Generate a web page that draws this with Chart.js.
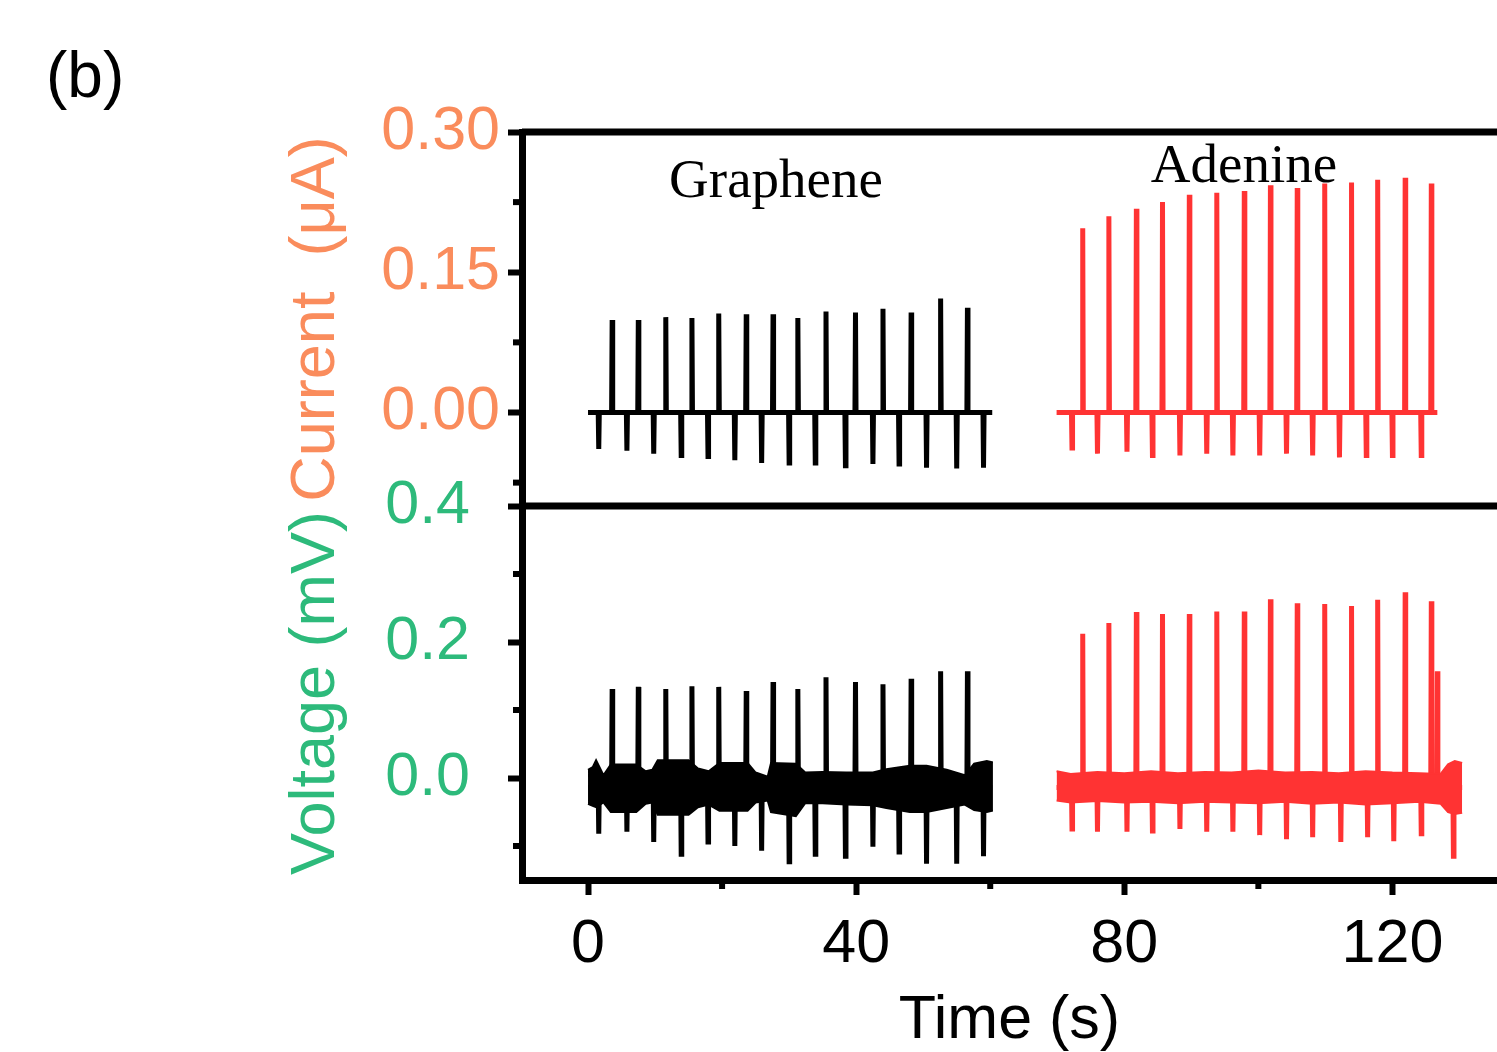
<!DOCTYPE html>
<html>
<head>
  <title>Graphene / Adenine spike trains</title>
  <script src="https://cdn.jsdelivr.net/npm/chart.js"></script>
  <style>
    body { margin: 0; background: #fff; }
  </style>
</head>
<body>
  <canvas id="chart" width="1497" height="1052" style="width:1497px;height:1052px;"></canvas>
  <script>
    // ---- data (time in s) ----
    // spike / dip times
    const gSpikeTime = [3.6, 7.5, 11.6, 15.5, 19.5, 23.6, 27.6, 31.3, 35.5, 39.9, 44.0, 48.2, 52.6, 56.6];
    const gDipTime = [1.6, 5.8, 9.8, 13.9, 17.9, 21.9, 25.9, 30.0, 33.9, 38.4, 42.5, 46.4, 50.5, 55.0, 59.0];
    const aSpikeTime = [73.8, 77.7, 81.8, 85.7, 89.7, 93.8, 97.9, 101.8, 105.8, 109.9, 113.9, 117.8, 121.9, 125.8];
    const aDipTime = [72.2, 76.0, 80.4, 84.2, 88.3, 92.3, 96.2, 100.2, 104.2, 108.1, 112.1, 116.1, 120.0, 124.3];
    const aVolSpikeTime = [73.8, 77.7, 81.8, 85.7, 89.7, 93.8, 97.9, 101.8, 105.8, 109.9, 113.9, 117.8, 121.9, 125.8, 126.7];
    const aVolDipTime = [72.2, 76.0, 80.4, 84.2, 88.3, 92.3, 96.2, 100.2, 104.2, 108.1, 112.3, 116.3, 120.2, 124.3, 129.1];

    // current (uA)
    const gCurSpike = [0.099, 0.099, 0.102, 0.101, 0.106, 0.105, 0.105, 0.101, 0.108, 0.107, 0.111, 0.107, 0.122, 0.112];
    const gCurDip = [-0.039, -0.041, -0.044, -0.046, -0.047, -0.051, -0.054, -0.054, -0.054, -0.057, -0.055, -0.055, -0.059, -0.060, -0.059];
    const aCurSpike = [0.197, 0.210, 0.218, 0.225, 0.233, 0.235, 0.237, 0.243, 0.240, 0.245, 0.246, 0.249, 0.251, 0.245];
    const aCurDip = [-0.038, -0.044, -0.042, -0.046, -0.046, -0.044, -0.046, -0.046, -0.044, -0.046, -0.048, -0.046, -0.046, -0.046];

    // voltage (mV)
    const gVolSpike = [0.131, 0.134, 0.131, 0.135, 0.134, 0.128, 0.141, 0.131, 0.148, 0.141, 0.138, 0.146, 0.157, 0.157];
    const gVolDip = [-0.082, -0.079, -0.094, -0.112, -0.094, -0.100, -0.107, -0.123, -0.112, -0.115, -0.101, -0.109, -0.126, -0.126, -0.115];
    const aVolSpike = [0.212, 0.228, 0.244, 0.241, 0.241, 0.245, 0.245, 0.263, 0.257, 0.256, 0.253, 0.262, 0.273, 0.260, 0.157];
    const aVolDip = [-0.075, -0.079, -0.079, -0.078, -0.075, -0.079, -0.079, -0.084, -0.090, -0.087, -0.094, -0.087, -0.093, -0.082, -0.115];

    // noise band of the voltage traces (upper / lower edge)
    const gBandTime = [0, 0.7, 1.2, 2.3, 3.4, 7.2, 8.6, 9.6, 10.4, 15.0, 16.4, 18.0, 19.6, 23.8, 25.0, 26.8, 27.3, 31.0, 32.4, 35.0, 38.5, 42.5, 44.5, 48.0, 50.5, 53.5, 56.2, 57.6, 59.5, 60.4];
    const gBandHigh = [0.012, 0.016, 0.026, 0.004, 0.020, 0.020, 0.010, 0.012, 0.026, 0.026, 0.014, 0.010, 0.022, 0.022, 0.008, 0.002, 0.022, 0.021, 0.008, 0.009, 0.008, 0.008, 0.013, 0.018, 0.018, 0.012, 0.004, 0.021, 0.025, 0.023];
    const gBandLow = [-0.038, -0.041, -0.043, -0.036, -0.050, -0.050, -0.038, -0.036, -0.054, -0.054, -0.043, -0.039, -0.048, -0.048, -0.036, -0.033, -0.050, -0.056, -0.037, -0.037, -0.039, -0.040, -0.044, -0.050, -0.050, -0.044, -0.039, -0.047, -0.050, -0.048];
    const aBandTime = [69.9, 72, 76, 80, 84, 88, 92, 96, 100, 104, 108, 112, 116, 120, 124, 127.2, 128.3, 129.3, 130.4];
    const aBandHigh = [0.010, 0.006, 0.009, 0.007, 0.010, 0.007, 0.009, 0.008, 0.011, 0.008, 0.009, 0.007, 0.010, 0.008, 0.007, 0.006, 0.020, 0.025, 0.022];
    const aBandLow = [-0.033, -0.036, -0.034, -0.036, -0.035, -0.037, -0.035, -0.036, -0.037, -0.035, -0.038, -0.036, -0.039, -0.037, -0.035, -0.038, -0.050, -0.053, -0.051];

    // trace extents and baselines
    const gStart = 0, gEnd = 60.3;
    const aStart = 69.9, aCurEnd = 126.7, aVolEnd = 130.4;
    const curBase = 0, volBase = -0.014;

    // axis ticks
    const xTicks = [0, 40, 80, 120];
    const xMinor = [20, 60, 100];
    const curTicks = [0, 0.15, 0.30];
    const curMinor = [-0.075, 0.075, 0.225];
    const volTicks = [0, 0.2, 0.4];
    const volMinor = [-0.1, 0.1, 0.3];

    const ORANGE = '#FA8C5C';
    const GREEN = '#2DBA7B';
    const RED = '#FF3333';
    const SANS = "'Liberation Sans', Arial, Helvetica, sans-serif";

    // spike train: baseline with narrow spikes and dips
    function trace(start, end, base, spT, spV, dpT, dpV) {
      const ev = [];
      spT.forEach((t, i) => ev.push([t, spV[i]]));
      dpT.forEach((t, i) => ev.push([t, dpV[i]]));
      ev.sort((a, b) => a[0] - b[0]);
      const pts = [{ x: start, y: base }];
      ev.forEach(([t, v]) => {
        pts.push({ x: t - 0.08, y: base }, { x: t, y: v }, { x: t + 0.08, y: base });
      });
      pts.push({ x: end, y: base });
      return pts;
    }
    const band = (ts, vs) => ts.map((t, i) => ({ x: t, y: vs[i] }));

    const line = (data, color, axis, extra) => Object.assign({
      data: data, borderColor: color, backgroundColor: color, borderWidth: 5,
      pointRadius: 0, tension: 0, yAxisID: axis, fill: false
    }, extra || {});

    // minor ticks, frame lines and labels
    const decor = {
      id: 'decor',
      afterDraw(chart) {
        const { ctx, chartArea: a, scales } = chart;
        ctx.save();
        ctx.strokeStyle = '#000';
        ctx.lineWidth = 7;
        [a.top, scales.yV.top].forEach(y => {
          ctx.beginPath(); ctx.moveTo(a.left, y); ctx.lineTo(a.right + 5, y); ctx.stroke();
        });
        ctx.lineWidth = 6;
        const yMin = (sc, vals) => vals.forEach(v => {
          const y = sc.getPixelForValue(v);
          ctx.beginPath(); ctx.moveTo(a.left - 3, y); ctx.lineTo(a.left - 9, y); ctx.stroke();
        });
        yMin(scales.yC, curMinor);
        yMin(scales.yV, volMinor);
        xMinor.forEach(v => {
          const x = scales.x.getPixelForValue(v);
          ctx.beginPath(); ctx.moveTo(x, a.bottom + 3); ctx.lineTo(x, a.bottom + 9); ctx.stroke();
        });

        ctx.fillStyle = '#000';
        ctx.textBaseline = 'alphabetic';
        ctx.textAlign = 'left';
        ctx.font = '64px ' + SANS;
        ctx.fillText('(b)', 46, 97);
        ctx.textAlign = 'center';
        ctx.font = "55px 'Liberation Serif', 'Times New Roman', serif";
        ctx.fillText('Graphene', 776, 197);
        ctx.fillText('Adenine', 1244, 182);
        ctx.restore();
      }
    };

    const ctx = document.getElementById('chart').getContext('2d');
    new Chart(ctx, {
      type: 'line',
      data: {
        datasets: [
          line(trace(gStart, gEnd, curBase, gSpikeTime, gCurSpike, gDipTime, gCurDip), '#000', 'yC'),
          line(trace(aStart, aCurEnd, curBase, aSpikeTime, aCurSpike, aDipTime, aCurDip), RED, 'yC'),
          line(band(gBandTime, gBandHigh), '#000', 'yV', { borderWidth: 2, fill: '+1' }),
          line(band(gBandTime, gBandLow), '#000', 'yV', { borderWidth: 2 }),
          line(trace(gStart, gEnd, volBase, gSpikeTime, gVolSpike, gDipTime, gVolDip), '#000', 'yV'),
          line(band(aBandTime, aBandHigh), RED, 'yV', { borderWidth: 2, fill: '+1' }),
          line(band(aBandTime, aBandLow), RED, 'yV', { borderWidth: 2 }),
          line(trace(aStart, aVolEnd, volBase, aVolSpikeTime, aVolSpike, aVolDipTime, aVolDip), RED, 'yV')
        ]
      },
      options: {
        responsive: false,
        animation: false,
        devicePixelRatio: 1,
        layout: { padding: { left: 279, top: 132, right: 0, bottom: 0 } },
        plugins: { legend: { display: false }, tooltip: { enabled: false } },
        scales: {
          x: {
            type: 'linear', min: -9.85, max: 135.6,
            afterBuildTicks: s => { s.ticks = xTicks.map(v => ({ value: v })); },
            afterFit: s => { s.height = 172; },
            border: { display: true, width: 7, color: '#000' },
            grid: { drawOnChartArea: false, tickLength: 15, tickWidth: 6, tickColor: '#000' },
            ticks: { color: '#000', padding: 14, font: { family: SANS, size: 61 }, maxRotation: 0 },
            title: { display: true, text: 'Time (s)', color: '#000', padding: { top: 0, bottom: -6 },
              font: { family: SANS, size: 61 } }
          },
          yV: {
            type: 'linear', position: 'left', stack: 'panels', stackWeight: 1,
            min: -0.15, max: 0.40,
            afterBuildTicks: s => { s.ticks = volTicks.map(v => ({ value: v })); },
            afterFit: s => { s.width = 243; },
            border: { display: true, width: 7, color: '#000' },
            grid: { drawOnChartArea: false, tickLength: 14, tickWidth: 6, tickColor: '#000' },
            ticks: { color: GREEN, padding: 38, font: { family: SANS, size: 61 },
              callback: v => v.toFixed(1) },
            title: { display: true, text: 'Voltage (mV)', color: GREEN, padding: { top: 0, bottom: 0 },
              font: { family: SANS, size: 63 } }
          },
          yC: {
            type: 'linear', position: 'left', stack: 'panels', stackWeight: 1,
            min: -0.10, max: 0.30,
            afterBuildTicks: s => { s.ticks = curTicks.map(v => ({ value: v })); },
            afterFit: s => { s.width = 243; },
            border: { display: true, width: 7, color: '#000' },
            grid: { drawOnChartArea: false, tickLength: 14, tickWidth: 6, tickColor: '#000' },
            ticks: { color: ORANGE, padding: 8, font: { family: SANS, size: 61 },
              callback: v => v.toFixed(2) },
            title: { display: true, text: 'Current  (\u03bcA)', color: ORANGE, padding: { top: 0, bottom: 0 },
              font: { family: SANS, size: 63 } }
          }
        }
      },
      plugins: [decor]
    });
  </script>
</body>
</html>
